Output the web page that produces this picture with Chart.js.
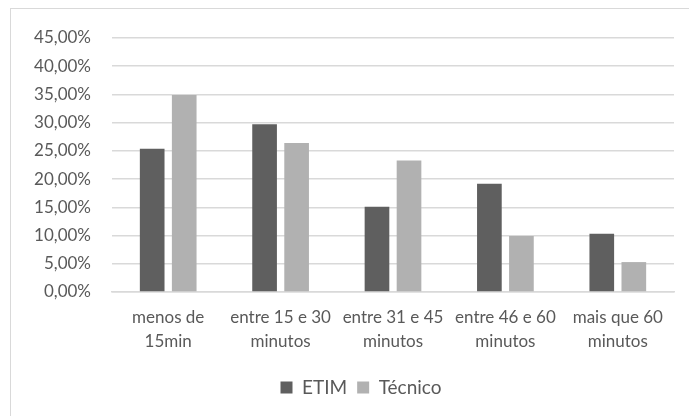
<!DOCTYPE html>
<html>
<head>
<meta charset="utf-8">
<script src="https://cdn.jsdelivr.net/npm/chart.js@4"></script>
<style>
  html, body { margin: 0; padding: 0; background: #fff; overflow: hidden; }
  body { width: 689px; height: 416px; position: relative; }
  .moldura {
    position: absolute; left: 10px; top: 8px;
    width: 800px; height: 500px;
    border: 1px solid #d9d9d9;
  }
  .grafico { position: absolute; left: 0; top: 0; }
</style>
</head>
<body>
<div class="moldura"></div>
<canvas class="grafico" width="689" height="416"></canvas>
<script>
const categorias = [
    ["menos de", "15min"],
    ["entre 15 e 30", "minutos"],
    ["entre 31 e 45", "minutos"],
    ["entre 46 e 60", "minutos"],
    ["mais que 60", "minutos"]
];
const etim = [25.4, 29.7, 15.1, 19.2, 10.3];
const tecnico = [34.9, 26.4, 23.3, 9.9, 5.3];

const corTexto = "#595959";
const corGrade = "#d9d9d9";
const fonte = { family: "Lato", size: 17 };

const formatPct = (v) => v.toFixed(2).replace(".", ",") + "%";

const canvas = document.querySelector(".grafico");

// a caixa do original passa da borda direita, entao a legenda fica um pouco a direita
const moverLegenda = {
    id: "moverLegenda",
    afterLayout(chart) {
        const leg = chart.legend;
        if (leg) {
            leg.left += 24;
            leg.right += 24;
        }
    }
};

const config = {
    type: "bar",
    data: {
        labels: categorias,
        datasets: [
            {
                label: "ETIM",
                data: etim,
                backgroundColor: "#5f5f5f",
                categoryPercentage: 0.57,
                barPercentage: 0.77
            },
            {
                label: "Técnico",
                data: tecnico,
                backgroundColor: "#b1b1b1",
                categoryPercentage: 0.57,
                barPercentage: 0.77
            }
        ]
    },
    options: {
        responsive: false,
        animation: false,
        layout: { padding: { left: 0, right: 15, top: 38, bottom: 9 } },
        plugins: {
            tooltip: { enabled: false },
            legend: {
                position: "bottom",
                labels: {
                    color: corTexto,
                    font: { family: "Lato", size: 19 },
                    boxWidth: 12,
                    boxHeight: 12,
                    padding: 10
                }
            }
        },
        scales: {
            x: {
                grid: { display: false, drawTicks: false },
                border: { color: corGrade, width: 1.5 },
                ticks: {
                    color: corTexto,
                    font: { family: "Lato", size: 17, lineHeight: 1.4 },
                    padding: 14,
                    maxRotation: 0
                },
                afterFit: (scale) => { scale.height = 76; }
            },
            y: {
                min: 0,
                max: 45,
                grid: { color: corGrade, lineWidth: 1.5, drawTicks: false },
                border: { display: false },
                ticks: {
                    stepSize: 5,
                    color: corTexto,
                    font: fonte,
                    padding: 21,
                    callback: (v) => formatPct(v)
                },
                afterFit: (scale) => { scale.width = 112; }
            }
        }
    },
    plugins: [moverLegenda]
};

let myChart = new Chart(canvas, config);
</script>
</body>
</html>
